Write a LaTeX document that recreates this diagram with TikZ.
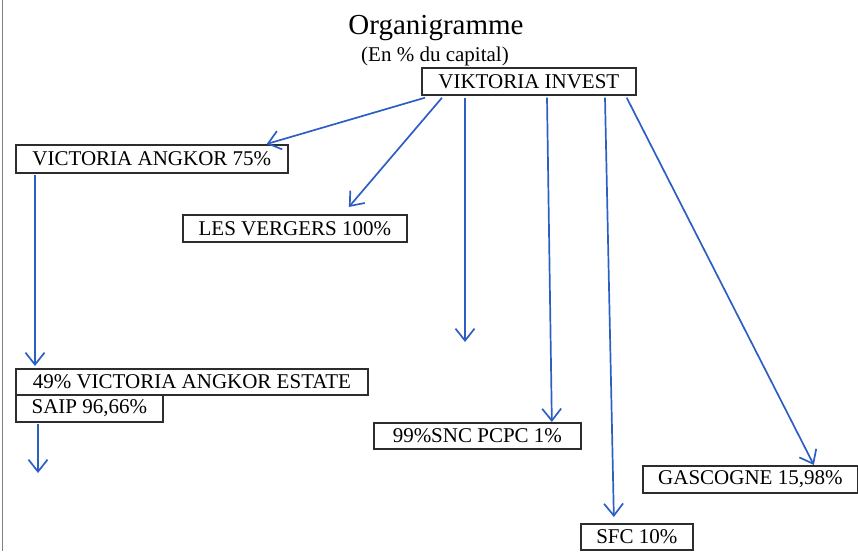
\documentclass[tikz,border=0pt]{standalone}
\usepackage{fontspec}
\setmainfont{Liberation Serif}
\usetikzlibrary{arrows.meta}
\definecolor{arrowblue}{RGB}{45,95,195}
\definecolor{boxgray}{RGB}{45,45,45}
\tikzset{
  orgbox/.style={draw=boxgray, line width=1.7pt, inner sep=0pt, anchor=north west,
    font=\fontsize{21}{24}\selectfont},
  link/.style={draw=arrowblue, line width=1.7pt,
    -{Straight Barb[length=12pt,width=19pt]}},
}
\begin{document}
\begin{tikzpicture}[x=1pt,y=-1pt]
\useasboundingbox (0,0) rectangle (858,551);
\draw[gray, line width=1.6pt] (2.5,0) -- (2.5,551);
\node[anchor=base, font=\fontsize{29}{32}\selectfont] (title) at (436,35) {Organigramme};
\node[anchor=base, font=\fontsize{21}{24}\selectfont] (sub) at (435,62) {(En \% du capital)};

\node[orgbox, minimum width=214pt, minimum height=27pt] (vi) at (421,67) {VIKTORIA INVEST};
\node[orgbox, minimum width=272pt, minimum height=28pt] (va) at (15,144) {VICTORIA ANGKOR 75\%};
\node[orgbox, minimum width=224pt, minimum height=27pt] (lv) at (182,214) {LES VERGERS 100\%};
\node[orgbox, minimum width=352pt, minimum height=26pt] (est) at (15,368) {49\% VICTORIA ANGKOR ESTATE};
\node[orgbox, minimum width=147pt, minimum height=27pt] (saip) at (15,394) {SAIP 96,66\%};
\node[orgbox, minimum width=207pt, minimum height=26pt] (sn) at (373,422) {99\%SNC PCPC 1\%};
\node[orgbox, minimum width=215pt, minimum height=27pt] (ga) at (642,465) {GASCOGNE 15,98\%};
\node[orgbox, minimum width=112pt, minimum height=26pt] (sfc) at (580,523) {SFC 10\%};

\coordinate (free1) at (465,342);
\coordinate (free2) at (38,473);

\draw[link] ([xshift=4pt,yshift=-2pt]vi.south west) -- ([xshift=-22pt]va.north east);
\draw[link] ([xshift=21pt,yshift=-2pt]vi.south west) -- ([xshift=54pt,yshift=7pt]lv.north);
\draw[link] ([xshift=44pt,yshift=-2pt]vi.south west) -- (free1);
\draw[link] ([xshift=126pt,yshift=-2pt]vi.south west) -- ([xshift=74.5pt]sn.north);
\draw[link] ([xshift=184pt,yshift=-2pt]vi.south west) -- ([xshift=-23pt,yshift=6pt]sfc.north);
\draw[link] ([xshift=-10pt,yshift=-2pt]vi.south east) -- ([xshift=63.5pt]ga.north);
\draw[link] ([xshift=20pt,yshift=-1pt]va.south west) -- ([xshift=20pt,yshift=2pt]est.north west);
\draw[link] ([xshift=23pt,yshift=-1pt]saip.south west) -- (free2);
\end{tikzpicture}
\end{document}
